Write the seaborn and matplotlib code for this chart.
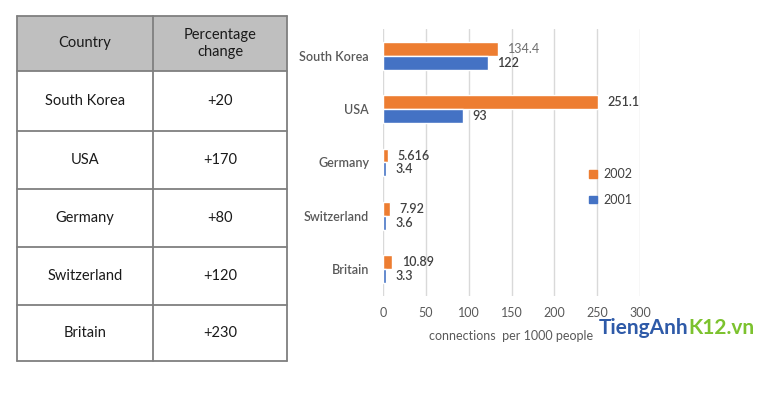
import pandas as pd
import matplotlib.pyplot as plt
import seaborn as sns
from matplotlib.patches import Rectangle, Patch

# Data
countries = ['South Korea', 'USA', 'Germany', 'Switzerland', 'Britain']
values_2002 = [134.4, 251.1, 5.616, 7.92, 10.89]
values_2001 = [122, 93, 3.4, 3.6, 3.3]
label_2002 = ['134.4', '251.1', '5.616', '7.92', '10.89']
label_2001 = ['122', '93', '3.4', '3.6', '3.3']
pct_change = ['+20', '+170', '+80', '+120', '+230']
table_header = ['Country', 'Percentage\nchange']
x_ticks = [0, 50, 100, 150, 200, 250, 300]

df = pd.DataFrame({
    'Country': countries * 2,
    'Year': ['2002'] * 5 + ['2001'] * 5,
    'Value': values_2002 + values_2001,
})

sns.set_style('white')
plt.rcParams['font.family'] = ['Lato', 'DejaVu Sans']

W, H = 768, 393
fig = plt.figure(figsize=(W / 100, H / 100), dpi=100)

# Table drawn in pixel coordinates
tax = fig.add_axes([0, 0, 1, 1])
tax.set_xlim(0, W)
tax.set_ylim(H, 0)
tax.axis('off')

left, mid, right = 17, 153, 287
rows = [16, 71, 131, 189, 247, 305, 361]
line_col = '#7f7f7f'
tax.add_patch(Rectangle((left, rows[0]), right - left, rows[1] - rows[0],
                        facecolor='#bfbfbf', edgecolor='none'))
for y in rows:
    tax.plot([left, right], [y, y], color=line_col, lw=1.3)
for x in [left, mid, right]:
    tax.plot([x, x], [rows[0], rows[-1]], color=line_col, lw=1.3)

cx1, cx2 = (left + mid) / 2, (mid + right) / 2
tax.text(cx1, (rows[0] + rows[1]) / 2, table_header[0], ha='center', va='center',
         fontsize=10.5, color='#1a1a1a')
tax.text(cx2, (rows[0] + rows[1]) / 2, table_header[1], ha='center', va='center',
         fontsize=10.5, color='#1a1a1a', linespacing=1.3)
for i, (c, p) in enumerate(zip(countries, pct_change)):
    yc = (rows[i + 1] + rows[i + 2]) / 2
    tax.text(cx1, yc, c, ha='center', va='center', fontsize=10.5, color='#1a1a1a')
    tax.text(cx2, yc, p, ha='center', va='center', fontsize=10.5, color='#1a1a1a')

# Bar chart
ax = fig.add_axes([383 / W, 1 - 295.5 / H, 257 / W, 266 / H])
palette = {'2002': '#ED7D31', '2001': '#4472C4'}
sns.barplot(data=df, y='Country', x='Value', hue='Year', order=countries,
            hue_order=['2002', '2001'], palette=palette, orient='h',
            width=0.52, gap=0, saturation=1, legend=False, ax=ax)

ax.set_xlim(0, 300)
ax.set_ylim(4.5, -0.5)
ax.set_xticks(x_ticks)
ax.set_xticklabels([str(t) for t in x_ticks], fontsize=9, color='#595959')
ax.tick_params(axis='x', length=0, pad=8)
ax.tick_params(axis='y', length=0, pad=10, labelsize=9, labelcolor='#595959')
for t in ax.get_yticklabels():
    t.set_fontweight('semibold')
ax.grid(axis='x', color='#d9d9d9', lw=1)
ax.set_axisbelow(True)
for s in ax.spines.values():
    s.set_visible(False)
ax.set_ylabel('')
ax.set_xlabel('connections  per 1000 people', fontsize=9, color='#595959', labelpad=8)

txts = ax.bar_label(ax.containers[0], labels=label_2002, padding=7, fontsize=9,
                    color='#404040', fontweight='semibold')
txts[0].set_color('#6f6f6f')
txts[0].set_fontweight('normal')
ax.bar_label(ax.containers[1], labels=label_2001, padding=7, fontsize=9, color='#404040',
             fontweight='semibold')

handles = [Patch(color=palette['2002'], label='2002'), Patch(color=palette['2001'], label='2001')]
fig.legend(handles=handles, loc='center left', bbox_to_anchor=(578 / W, 1 - 187 / H),
           frameon=False, fontsize=9, handlelength=0.6, handleheight=0.6,
           handletextpad=0.5, labelspacing=1.1, labelcolor='#404040')

# Watermark
tax.text(688, 328, 'TiengAnh', fontsize=15, color='#2e5aa8', fontweight='bold',
         va='center', ha='right')
tax.text(688, 328, 'K12.vn', fontsize=15, color='#7cc22e', fontweight='bold',
         va='center', ha='left')

fig.savefig('out.png', dpi=100)
